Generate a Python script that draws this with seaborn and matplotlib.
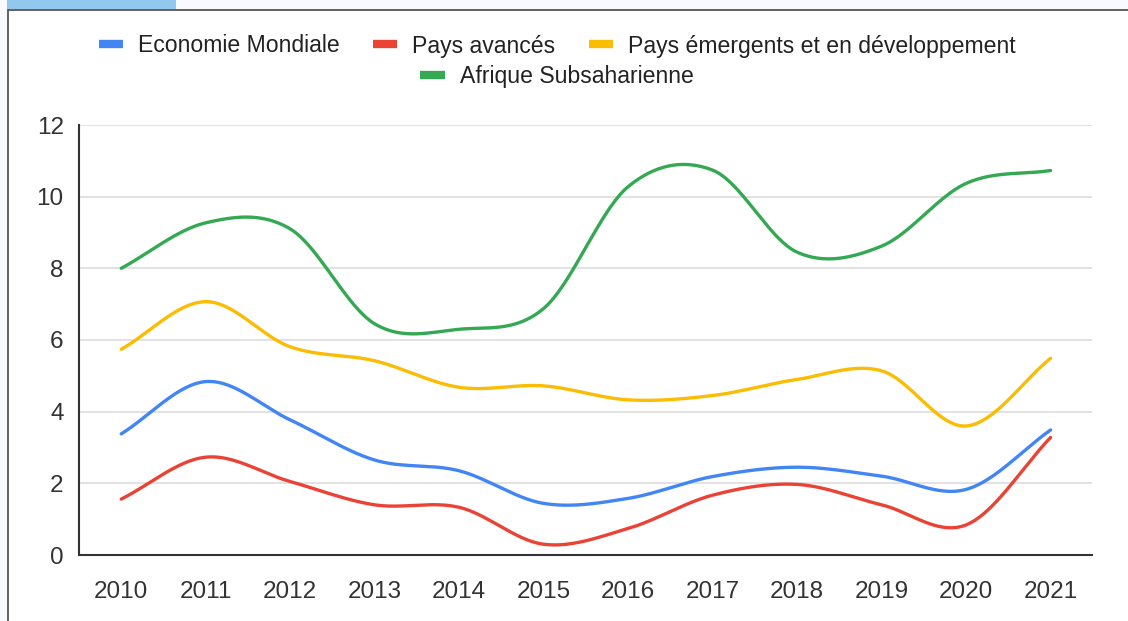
import numpy as np
import pandas as pd
import matplotlib
matplotlib.use("Agg")
import matplotlib.pyplot as plt
import seaborn as sns
from matplotlib.patches import Rectangle
from matplotlib.lines import Line2D

# ---------------- data ----------------
years = [2010, 2011, 2012, 2013, 2014, 2015, 2016, 2017, 2018, 2019, 2020, 2021]
economie_mondiale = [3.38, 4.84, 3.77, 2.65, 2.35, 1.44, 1.58, 2.19, 2.45, 2.20, 1.83, 3.49]
pays_avances = [1.56, 2.73, 2.05, 1.40, 1.33, 0.30, 0.74, 1.67, 1.97, 1.40, 0.84, 3.28]
pays_emergents = [5.74, 7.07, 5.81, 5.42, 4.68, 4.72, 4.33, 4.45, 4.90, 5.14, 3.60, 5.49]
afrique_subsaharienne = [8.00, 9.27, 9.10, 6.45, 6.30, 6.88, 10.28, 10.74, 8.45, 8.62, 10.37, 10.73]

series_names = ["Economie Mondiale", "Pays avancés",
                "Pays émergents et en développement", "Afrique Subsaharienne"]
series_values = [economie_mondiale, pays_avances, pays_emergents, afrique_subsaharienne]
series_colors = ["#4285F4", "#EA4335", "#FBBC04", "#34A853"]
y_ticks = [0, 2, 4, 6, 8, 10, 12]


def smooth_curve(x, y, n=40):
    """Cubic Hermite (Catmull-Rom style) rendering of the series, as a
    'function' curve would be drawn; passes exactly through each data point."""
    x = np.asarray(x, float)
    y = np.asarray(y, float)
    m = np.empty_like(y)
    m[1:-1] = (y[2:] - y[:-2]) / (x[2:] - x[:-2])
    m[0] = (y[1] - y[0]) / (x[1] - x[0])
    m[-1] = (y[-1] - y[-2]) / (x[-1] - x[-2])
    xs, ys = [], []
    for i in range(len(x) - 1):
        h = x[i + 1] - x[i]
        t = np.linspace(0, 1, n, endpoint=(i == len(x) - 2))
        h00 = 2 * t**3 - 3 * t**2 + 1
        h10 = t**3 - 2 * t**2 + t
        h01 = -2 * t**3 + 3 * t**2
        h11 = t**3 - t**2
        ys.append(h00 * y[i] + h10 * h * m[i] + h01 * y[i + 1] + h11 * h * m[i + 1])
        xs.append(x[i] + t * h)
    return np.concatenate(xs), np.concatenate(ys)


frames = []
for name, vals in zip(series_names, series_values):
    sx, sy = smooth_curve(years, vals)
    frames.append(pd.DataFrame({"x": sx, "y": sy, "series": name}))
df = pd.concat(frames, ignore_index=True)

# ---------------- figure ----------------
sns.set_theme(style="white")
plt.rcParams["font.family"] = ["Liberation Sans", "DejaVu Sans"]

W, H = 1128, 621
fig = plt.figure(figsize=(W / 100, H / 100), dpi=100)
fig.patch.set_facecolor("white")

# screenshot frame pieces
fig.patches.append(Rectangle((0, 0), 8 / W, 1, transform=fig.transFigure,
                             facecolor="#f8faff", edgecolor="none", zorder=0))
fig.patches.append(Rectangle((0, 1 - 9 / H), 1, 9 / H, transform=fig.transFigure,
                             facecolor="#f8faff", edgecolor="none", zorder=0))
fig.patches.append(Rectangle((7 / W, 1 - 9 / H), 169 / W, 9 / H, transform=fig.transFigure,
                             facecolor="#93c8ee", edgecolor="none", zorder=1))
fig.lines.append(Line2D([8 / W, 8 / W], [0, 1 - 9.5 / H], transform=fig.transFigure,
                        color="#555555", lw=1.3))
fig.lines.append(Line2D([8 / W, 1], [1 - 9.5 / H, 1 - 9.5 / H], transform=fig.transFigure,
                        color="#555555", lw=1.3))

ax = fig.add_axes([79 / W, 1 - 555 / H, (1092 - 79) / W, (555 - 125) / H])
ax.set_facecolor("white")

sns.lineplot(data=df, x="x", y="y", hue="series", hue_order=series_names,
             palette=series_colors, estimator=None, sort=False, legend=False,
             linewidth=2.4, ax=ax)

ax.set_xlim(2009.5, 2021.49)
ax.set_ylim(0, 12)
ax.set_xticks(years)
ax.set_xticklabels([str(y) for y in years])
ax.set_yticks(y_ticks)
ax.set_yticklabels([str(v) for v in y_ticks])
ax.set_xlabel("")
ax.set_ylabel("")

ax.yaxis.grid(True, color="#e2e2e2", lw=1.4)
ax.xaxis.grid(False)
ax.set_axisbelow(True)
for s in ["top", "right"]:
    ax.spines[s].set_visible(False)
for s in ["left", "bottom"]:
    ax.spines[s].set_visible(True)
    ax.spines[s].set_color("#333333")
    ax.spines[s].set_linewidth(1.5)
    ax.spines[s].set_zorder(5)

ax.tick_params(axis="y", length=0, pad=11, labelsize=17.5, labelcolor="#333333")
ax.tick_params(axis="x", direction="inout", length=15, width=1.4, color="#333333",
               pad=11, labelsize=17.5, labelcolor="#333333")

# ---------------- legend (two centred rows) ----------------
handles = [Line2D([], [], color=c, lw=6, solid_capstyle="butt") for c in series_colors]
leg_kw = dict(frameon=False, fontsize=16.6, handlelength=1.05, handletextpad=0.65,
              columnspacing=1.45, labelcolor="#222222", borderaxespad=0, borderpad=0)
leg1 = fig.legend(handles[:3], series_names[:3], ncol=3, loc="center",
                  bbox_to_anchor=(557 / W, 1 - 46 / H), **leg_kw)
leg2 = fig.legend(handles[3:], series_names[3:], ncol=1, loc="center",
                  bbox_to_anchor=(557 / W, 1 - 77 / H), **leg_kw)

fig.savefig("out.png", dpi=100)
